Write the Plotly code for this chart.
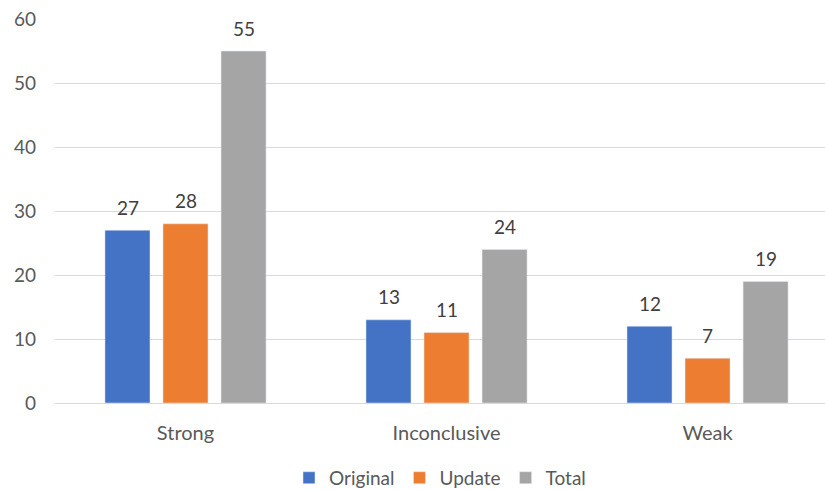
import plotly.graph_objects as go

categories = ["Strong", "Inconclusive", "Weak"]
original = [27, 13, 12]
update = [28, 11, 7]
total = [55, 24, 19]
series = [("Original", original, "#4472C4"),
          ("Update", update, "#ED7D31"),
          ("Total", total, "#A5A5A5")]

font = "Lato, Open Sans, sans-serif"
txt_col = "#595959"

fig = go.Figure()
for name, vals, col in series:
    fig.add_trace(go.Bar(x=categories, y=vals, name=name, marker_color=col))

# data labels placed above each bar (offset within group)
slot_px = 58
for i, (name, vals, col) in enumerate(series):
    for c, v in zip(categories, vals):
        fig.add_annotation(x=c, y=v, text=str(v), showarrow=False,
                           xshift=(i - 1) * slot_px, yshift=23, yanchor="middle",
                           font=dict(family=font, size=19, color="#404040"))

fig.update_layout(
    width=825, height=490,
    margin=dict(l=55, r=0, t=19, b=87, autoexpand=False),
    paper_bgcolor="white", plot_bgcolor="white",
    font=dict(family=font, size=19, color=txt_col),
    barmode="group", bargap=0.333, bargroupgap=0.224,
    showlegend=True,
    legend=dict(orientation="h", x=0.5, xanchor="center", y=-0.195, yanchor="middle",
                font=dict(size=19, color=txt_col), traceorder="normal",
                itemwidth=30, tracegroupgap=0),
    yaxis=dict(range=[0, 60], dtick=10, showgrid=True, gridcolor="#D9D9D9", gridwidth=1,
               zeroline=False, showline=False, ticks="", ticklabelstandoff=18),
    xaxis=dict(range=[-0.5, 2.45], showline=True, linecolor="#D9D9D9", linewidth=1, ticks="",
               ticklabelstandoff=12, tickfont=dict(size=20)),
)
fig.write_html("out.html")
